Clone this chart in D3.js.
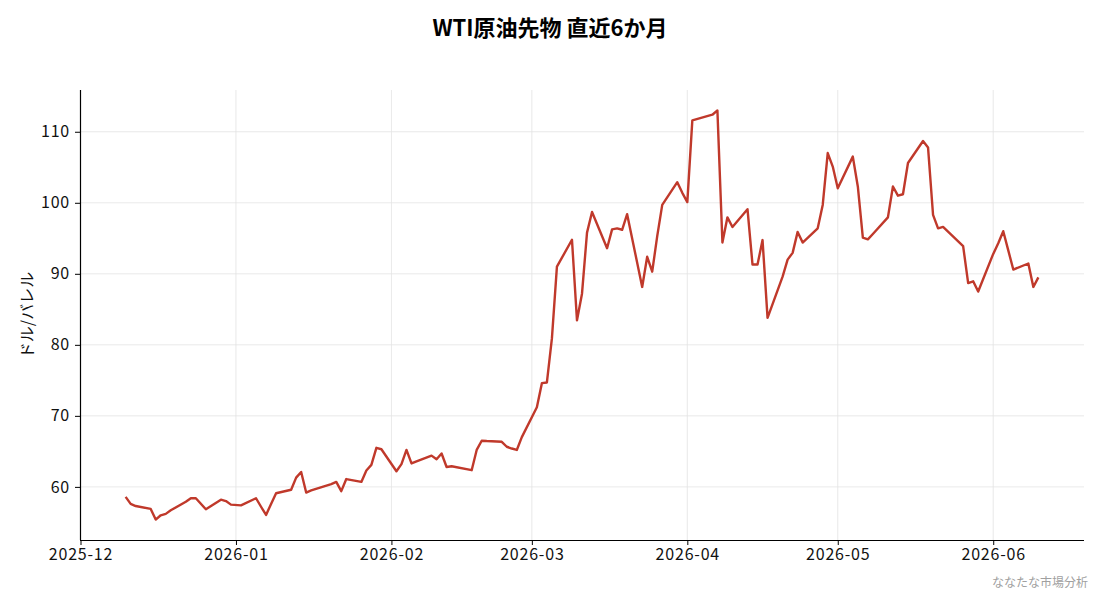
<!DOCTYPE html>
<html>
<head>
<meta charset="utf-8">
<script src="https://cdn.jsdelivr.net/npm/d3@7"></script>
<style>
body { margin: 0; background: #fff; }
text { font-family: "Noto Sans CJK JP", "Noto Sans", sans-serif; }
</style>
</head>
<body>
<div id="chart"></div>
<script>
// trading days and closing prices (USD/bbl)
var dates = [
	"2025-12-10","2025-12-11","2025-12-12","2025-12-15","2025-12-16","2025-12-17","2025-12-18","2025-12-19",
	"2025-12-22","2025-12-23","2025-12-24","2025-12-26","2025-12-29","2025-12-30","2025-12-31",
	"2026-01-02","2026-01-05","2026-01-06","2026-01-07","2026-01-08","2026-01-09",
	"2026-01-12","2026-01-13","2026-01-14","2026-01-15","2026-01-16",
	"2026-01-20","2026-01-21","2026-01-22","2026-01-23",
	"2026-01-26","2026-01-27","2026-01-28","2026-01-29","2026-01-30",
	"2026-02-02","2026-02-03","2026-02-04","2026-02-05","2026-02-06",
	"2026-02-09","2026-02-10","2026-02-11","2026-02-12","2026-02-13",
	"2026-02-17","2026-02-18","2026-02-19","2026-02-20",
	"2026-02-23","2026-02-24","2026-02-25","2026-02-26","2026-02-27",
	"2026-03-02","2026-03-03","2026-03-04","2026-03-05","2026-03-06",
	"2026-03-09","2026-03-10","2026-03-11","2026-03-12","2026-03-13",
	"2026-03-16","2026-03-17","2026-03-18","2026-03-19","2026-03-20",
	"2026-03-23","2026-03-24","2026-03-25","2026-03-26","2026-03-27",
	"2026-03-30","2026-03-31","2026-04-01","2026-04-02",
	"2026-04-06","2026-04-07","2026-04-08","2026-04-09","2026-04-10",
	"2026-04-13","2026-04-14","2026-04-15","2026-04-16","2026-04-17",
	"2026-04-20","2026-04-21","2026-04-22","2026-04-23","2026-04-24",
	"2026-04-27","2026-04-28","2026-04-29","2026-04-30","2026-05-01",
	"2026-05-04","2026-05-05","2026-05-06","2026-05-07","2026-05-08",
	"2026-05-11","2026-05-12","2026-05-13","2026-05-14","2026-05-15",
	"2026-05-18","2026-05-19","2026-05-20","2026-05-21","2026-05-22",
	"2026-05-26","2026-05-27","2026-05-28","2026-05-29",
	"2026-06-01","2026-06-02","2026-06-03","2026-06-04","2026-06-05",
	"2026-06-08","2026-06-09","2026-06-10"
];
var prices = [
	58.6, 57.6, 57.3, 56.9, 55.4, 56.0, 56.2, 56.7,
	57.9, 58.4, 58.4, 56.85, 58.2, 58.0, 57.5,
	57.4, 58.4, 57.2, 56.05, 57.6, 59.1,
	59.6, 61.3, 62.1, 59.2, 59.5,
	60.4, 60.7, 59.4, 61.1,
	60.7, 62.3, 63.1, 65.5, 65.3,
	62.2, 63.2, 65.2, 63.3, 63.6,
	64.4, 63.9, 64.7, 62.8, 62.9,
	62.35, 65.2, 66.5, 66.45,
	66.35, 65.65, 65.4, 65.2, 67.0,
	71.2, 74.6, 74.7, 80.9, 91.0,
	94.8, 83.45, 87.2, 95.8, 98.7,
	93.6, 96.25, 96.4, 96.2, 98.4,
	88.15, 92.4, 90.3, 95.3, 99.7,
	102.9, 101.4, 100.1, 111.6,
	112.4, 113.0, 94.4, 97.95, 96.6,
	99.1, 91.3, 91.3, 94.75, 83.8,
	89.6, 92.0, 92.95, 95.9, 94.4,
	96.4, 99.7, 107.0, 105.1, 102.05,
	106.5, 102.3, 95.1, 94.85, 95.6,
	97.95, 102.3, 101.0, 101.2, 105.6,
	108.7, 107.8, 98.3, 96.4, 96.6,
	93.9, 88.7, 88.95, 87.5,
	92.8, 94.3, 96.0, 93.3, 90.6,
	91.45, 88.15, 89.5
];
var yTicks = [60, 70, 80, 90, 100, 110];
var monthTicks = ["2025-12-01","2026-01-01","2026-02-01","2026-03-01","2026-04-01","2026-05-01","2026-06-01"];

var W = 1100, H = 594;
var margin = { top: 90, right: 16, bottom: 54, left: 80 },
	width = W - margin.left - margin.right,
	height = H - margin.top - margin.bottom;

var parse = d3.utcParse("%Y-%m-%d");
var data = dates.map(function(d, i) { return { date: parse(d), value: prices[i] }; });

// matplotlib-style 5% padding around the data
var xExt = d3.extent(data, function(d) { return d.date; });
var xPad = (xExt[1] - xExt[0]) * 0.05;
var yExt = d3.extent(data, function(d) { return d.value; });
var yPad = (yExt[1] - yExt[0]) * 0.05;

var x = d3.scaleUtc()
	.domain([new Date(+xExt[0] - xPad), new Date(+xExt[1] + xPad)])
	.range([0, width]);
var y = d3.scaleLinear()
	.domain([yExt[0] - yPad, yExt[1] + yPad])
	.range([height, 0]);

var svg = d3.select("#chart").append("svg")
	.attr("width", W)
	.attr("height", H);

svg.append("text")
	.attr("x", W / 2)
	.attr("y", 36)
	.attr("text-anchor", "middle")
	.style("font-size", "22px")
	.style("font-weight", "bold")
	.text("WTI原油先物 直近6か月");

var g = svg.append("g")
	.attr("transform", "translate(" + margin.left + "," + margin.top + ")");

// grid
g.append("g")
	.selectAll("line")
	.data(yTicks)
	.enter().append("line")
	.attr("x1", 0).attr("x2", width)
	.attr("y1", function(d) { return y(d); })
	.attr("y2", function(d) { return y(d); })
	.style("stroke", "#e3e3e3")
	.style("stroke-width", 0.8);
g.append("g")
	.selectAll("line")
	.data(monthTicks.map(parse))
	.enter().append("line")
	.attr("x1", function(d) { return x(d); })
	.attr("x2", function(d) { return x(d); })
	.attr("y1", 0).attr("y2", height)
	.style("stroke", "#e3e3e3")
	.style("stroke-width", 0.8);

var xAxis = d3.axisBottom(x)
	.tickValues(monthTicks.map(parse))
	.tickFormat(d3.utcFormat("%Y-%m"))
	.tickSize(5)
	.tickPadding(4);
var yAxis = d3.axisLeft(y)
	.tickValues(yTicks)
	.tickSize(5)
	.tickPadding(5);

var gx = g.append("g")
	.attr("transform", "translate(0," + height + ")")
	.call(xAxis);
var gy = g.append("g").call(yAxis);

[gx, gy].forEach(function(a) {
	a.select(".domain").style("stroke", "#000").style("stroke-width", 1.2)
		.attr("d", a === gx ? "M0,0.5H" + width : "M0.5," + height + "V0");
	a.selectAll(".tick line").style("stroke", "#000").style("stroke-width", 1);
	a.selectAll("text")
		.style("font-family", "'Noto Sans CJK JP', sans-serif")
		.style("font-size", "16px")
		.style("letter-spacing", "0.8px")
		.style("fill", "#111");
});

svg.append("text")
	.attr("transform", "translate(33," + (margin.top + height / 2) + ") rotate(-90)")
	.attr("text-anchor", "middle")
	.style("font-size", "16px")
	.style("fill", "#111")
	.text("ドル/バレル");

var line = d3.line()
	.x(function(d) { return x(d.date); })
	.y(function(d) { return y(d.value); });

g.append("path")
	.datum(data)
	.attr("d", line)
	.style("fill", "none")
	.style("stroke", "#c0392b")
	.style("stroke-width", 2.4)
	.style("stroke-linejoin", "round");

svg.append("text")
	.attr("x", W - 12)
	.attr("y", 587)
	.attr("text-anchor", "end")
	.style("font-size", "12px")
	.style("fill", "#a0a0a0")
	.text("ななたな市場分析");
</script>
</body>
</html>
